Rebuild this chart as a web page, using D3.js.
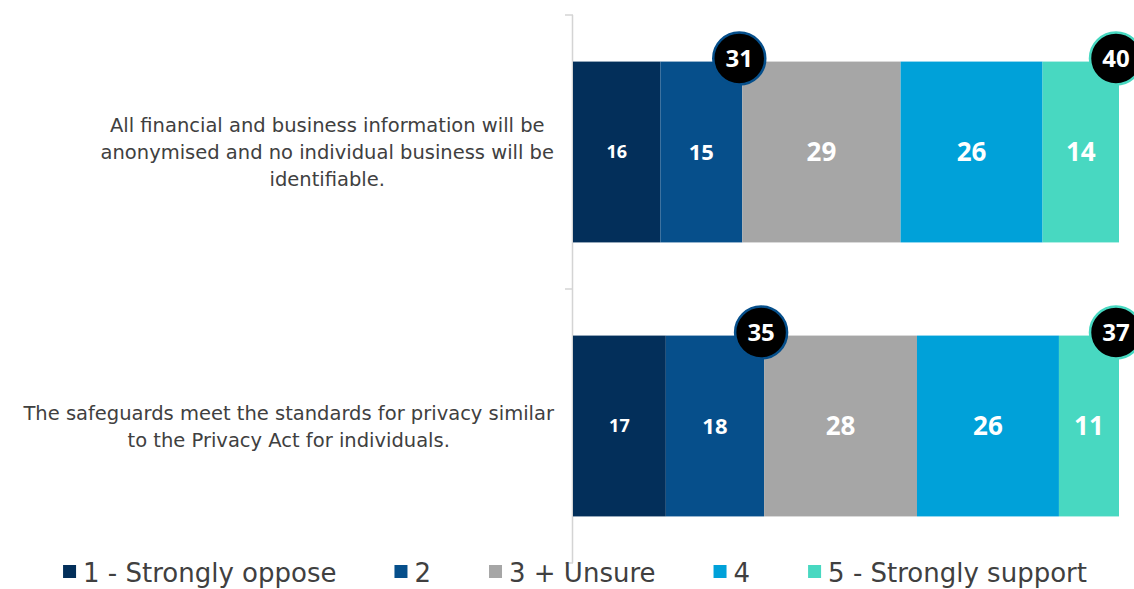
<!DOCTYPE html>
<html lang="en">
<head>
    <meta charset="UTF-8">
    <title>Stacked bars</title>
    <script src="https://cdn.jsdelivr.net/npm/d3@7"></script>
    <style>
        html, body {
            margin: 0;
            background: white;
            font-family: "Open Sans", sans-serif;
        }
    </style>
</head>
<body>
    <div id="vis"></div>
    <script>

        // data
        var categories = [
            "All financial and business information will be anonymised and no individual business will be identifiable.",
            "The safeguards meet the standards for privacy similar to the Privacy Act for individuals."
        ];
        var categoryLines = [
            ["All financial and business information will be", "anonymised and no individual business will be", "identifiable."],
            ["The safeguards meet the standards for privacy similar", "to the Privacy Act for individuals."]
        ];
        var seriesNames = ["1 - Strongly oppose", "2", "3 + Unsure", "4", "5 - Strongly support"];
        var seriesValues = [
            [16, 15, 29, 26, 14],
            [17, 18, 28, 26, 11]
        ];
        var netOppose = [31, 35];
        var netSupport = [40, 37];

        var colours = ["#032f5a", "#064f8b", "#a6a6a6", "#00a1d9", "#48d8c1"];
        var labelSizes = [18, 22, 26, 26, 26];

        var width = 1134;
        var height = 589;

        var svg = d3.select('#vis')
                    .append('svg')
                        .attr('width', width)
                        .attr('height', height);

        var x_scale = d3.scaleLinear()
                    .domain([0, 100])
                    .range([573, 1119]);

        var y_scale = d3.scaleBand()
                    .domain(categories)
                    .range([15, 563])
                    .paddingInner(0.34)
                    .paddingOuter(0.17);

        // axis line with ticks at the category boundaries
        var axis = svg.append('g').attr('class', 'axis');
        axis.append('line')
            .attr('x1', x_scale(0) - 0.5).attr('x2', x_scale(0) - 0.5)
            .attr('y1', y_scale.range()[0]).attr('y2', y_scale.range()[1])
            .attr('stroke', '#d4d4d4')
            .attr('stroke-width', 1.5);
        var step = y_scale.step();
        d3.range(categories.length + 1).forEach(function(i){
            var ty = y_scale.range()[0] + i * step;
            axis.append('line')
                .attr('x1', x_scale(0) - 8).attr('x2', x_scale(0))
                .attr('y1', ty).attr('y2', ty)
                .attr('stroke', '#d4d4d4')
                .attr('stroke-width', 1.5);
        });

        // stacked segments
        var rows = categories.map(function(c, i){
            var start = 0;
            return seriesValues[i].map(function(v, j){
                var seg = {cat: c, series: j, value: v, x0: start, x1: start + v};
                start += v;
                return seg;
            });
        });

        var groups = svg.selectAll('.row')
            .data(rows)
            .enter()
            .append('g')
            .attr('class', 'row');

        groups.selectAll('rect')
            .data(function(d){ return d; })
            .enter()
            .append('rect')
            .attr('x', function(d){ return x_scale(d.x0); })
            .attr('width', function(d){ return x_scale(d.x1) - x_scale(d.x0); })
            .attr('y', function(d){ return y_scale(d.cat); })
            .attr('height', y_scale.bandwidth())
            .attr('fill', function(d){ return colours[d.series]; });

        groups.selectAll('.val')
            .data(function(d){ return d; })
            .enter()
            .append('text')
            .attr('class', 'val')
            .attr('x', function(d){ return (x_scale(d.x0) + x_scale(d.x1)) / 2; })
            .attr('y', function(d){ return y_scale(d.cat) + y_scale.bandwidth() / 2; })
            .attr('dy', '0.36em')
            .attr('text-anchor', 'middle')
            .attr('fill', 'white')
            .attr('font-weight', 'bold')
            .attr('font-size', function(d){ return labelSizes[d.series] + 'px'; })
            .text(function(d){ return d.value; });

        // net bubbles
        var bubbles = [];
        categories.forEach(function(c, i){
            bubbles.push({cat: c, value: netOppose[i], at: seriesValues[i][0] + seriesValues[i][1], stroke: colours[1]});
            bubbles.push({cat: c, value: netSupport[i], at: d3.sum(seriesValues[i]), stroke: colours[4]});
        });

        var b = svg.selectAll('.bubble')
            .data(bubbles)
            .enter()
            .append('g')
            .attr('class', 'bubble')
            .attr('transform', function(d){
                return 'translate(' + (x_scale(d.at) - 3) + ',' + (y_scale(d.cat) - 3) + ')';
            });
        b.append('circle')
            .attr('r', 26)
            .attr('fill', 'black')
            .attr('stroke', function(d){ return d.stroke; })
            .attr('stroke-width', 2.5);
        b.append('text')
            .attr('text-anchor', 'middle')
            .attr('dy', '0.36em')
            .attr('fill', 'white')
            .attr('font-weight', 'bold')
            .attr('font-size', '24px')
            .text(function(d){ return d.value; });

        // category labels, lines centred, block right aligned
        var labelRight = 554;
        categories.forEach(function(c, i){
            var lines = categoryLines[i];
            var g = svg.append('g');
            var lineH = 27;
            var cy = y_scale(c) + y_scale.bandwidth() / 2;
            var texts = g.selectAll('text')
                .data(lines)
                .enter()
                .append('text')
                .attr('y', function(d, k){ return cy + (k - (lines.length - 1) / 2) * lineH; })
                .attr('dy', '0.36em')
                .attr('text-anchor', 'middle')
                .attr('fill', '#404040')
                .attr('font-family', '"DejaVu Sans", sans-serif')
                .attr('font-size', '19.5px')
                .text(function(d){ return d; });
            var maxW = d3.max(texts.nodes(), function(n){ return n.getComputedTextLength(); });
            texts.attr('x', labelRight - maxW / 2);
        });

        // legend
        var legend = svg.append('g').attr('class', 'legend');
        var lx = 0;
        seriesNames.forEach(function(name, j){
            legend.append('rect')
                .attr('x', lx).attr('y', -8)
                .attr('width', 13).attr('height', 13)
                .attr('fill', colours[j]);
            var t = legend.append('text')
                .attr('x', lx + 20)
                .attr('dy', '0.36em')
                .attr('fill', '#404040')
                .attr('font-family', '"DejaVu Sans", sans-serif')
                .attr('font-size', '26px')
                .text(name);
            lx += 20 + t.node().getComputedTextLength() + 58;
        });
        lx -= 58;
        legend.attr('transform', 'translate(' + (575 - lx / 2) + ',573)');

    </script>
</body>
</html>
